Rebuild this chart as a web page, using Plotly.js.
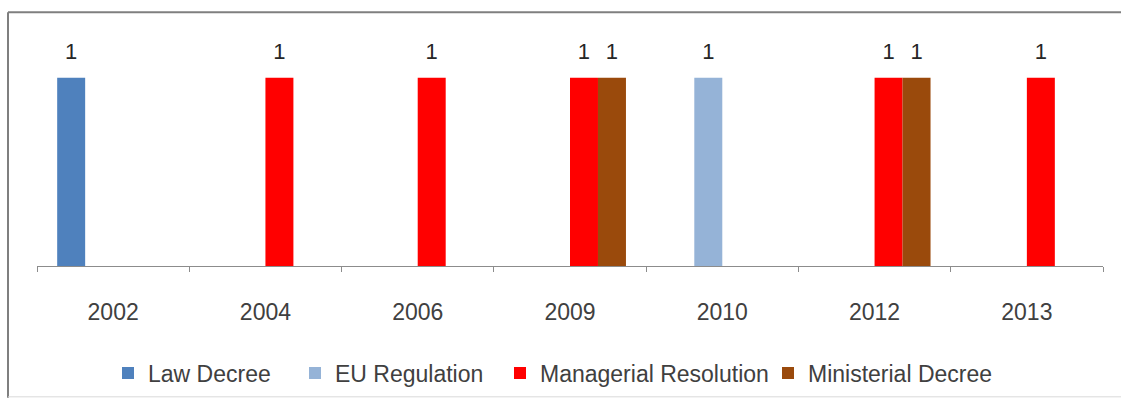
<!DOCTYPE html>
<html>
<head>
<meta charset="utf-8">
<script src="https://cdn.plot.ly/plotly-3.0.1.min.js"></script>
<style>
  html, body { margin: 0; padding: 0; background: #ffffff; }
  #chart { width: 1121px; height: 407px; }
</style>
</head>
<body>
<div id="chart"></div>
<script>
// ---- Data ----
const categories = ['2002', '2004', '2006', '2009', '2010', '2012', '2013'];
const seriesNames = ['Law Decree', 'EU Regulation', 'Managerial Resolution', 'Ministerial Decree'];
const lawDecree            = [1, null, null, null, null, null, null];
const euRegulation         = [null, null, null, null, 1, null, null];
const managerialResolution = [null, 1, 1, 1, null, 1, 1];
const ministerialDecree    = [null, null, null, 1, null, 1, null];

// ---- Styles ----
const seriesValues = [lawDecree, euRegulation, managerialResolution, ministerialDecree];
const colors = ['#4F81BD', '#95B3D7', '#FF0000', '#9A4A0C'];
const groups = ['g1', 'g2', 'g3', 'g4'];
const legendIds = ['legend', 'legend2', 'legend3', 'legend4'];
const FONT = 'Liberation Sans, Arial, sans-serif';
const TXT = '#404040';

const traces = [];
seriesValues.forEach((vals, i) => {
  traces.push({
    type: 'bar',
    name: seriesNames[i],
    x: categories,
    y: vals,
    offsetgroup: groups[i],
    marker: { color: colors[i] },
    legend: legendIds[i],
    hoverinfo: 'x+y+name'
  });
});
seriesValues.forEach((vals, i) => {
  traces.push({
    type: 'scatter',
    mode: 'markers+text',
    x: categories,
    y: vals,
    offsetgroup: groups[i],
    texttemplate: '%{y}',
    textposition: 'top center',
    textfont: { family: FONT, size: 22, color: '#262626' },
    marker: { size: 20, color: 'rgba(0,0,0,0)' },
    cliponaxis: false,
    showlegend: false,
    hoverinfo: 'skip'
  });
});

// plot area: x 37..1103, y 40..268
const plotL = 37, plotR = 1103, plotT = 40, plotB = 268;
const px = v => (v - plotL) / (plotR - plotL);
const py = v => (plotB - v) / (plotB - plotT);

function legendAt(xpix) {
  return {
    orientation: 'h',
    x: px(xpix), xanchor: 'left',
    y: py(376), yanchor: 'middle',
    bgcolor: 'rgba(0,0,0,0)',
    borderwidth: 0,
    font: { family: FONT, size: 23, color: TXT }
  };
}

const layout = {
  width: 1121,
  height: 407,
  margin: { l: plotL, r: 1121 - plotR, t: plotT, b: 407 - plotB },
  paper_bgcolor: '#ffffff',
  plot_bgcolor: '#ffffff',
  barmode: 'group',
  bargap: 0.265,
  bargroupgap: 0,
  scattermode: 'group',
  scattergap: 0.265,
  font: { family: FONT, size: 23, color: TXT },
  xaxis: {
    type: 'category',
    showgrid: false,
    zeroline: false,
    showline: true,
    linecolor: '#8c8c8c',
    linewidth: 1,
    ticks: 'outside',
    tickson: 'boundaries',
    ticklen: 5,
    tickcolor: '#8c8c8c',
    tickfont: { family: FONT, size: 23, color: TXT },
    ticklabelstandoff: 25,
    fixedrange: true
  },
  yaxis: {
    range: [0, 1.2],
    visible: false,
    showgrid: false,
    zeroline: false,
    fixedrange: true
  },
  legend: legendAt(108),
  legend2: legendAt(295),
  legend3: legendAt(500),
  legend4: legendAt(768),
  shapes: [
    { type: 'line', xref: 'paper', yref: 'paper', x0: px(8), x1: px(8), y0: py(401), y1: py(12),
      line: { color: '#7f7f7f', width: 2 } },
    { type: 'line', xref: 'paper', yref: 'paper', x0: px(8), x1: px(1125), y0: py(12), y1: py(12),
      line: { color: '#7f7f7f', width: 2 } },
    { type: 'line', xref: 'paper', yref: 'paper', x0: px(8), x1: px(1125), y0: py(400), y1: py(400),
      line: { color: '#d9d9d9', width: 1 } }
  ]
};

Plotly.newPlot('chart', traces, layout, { displayModeBar: false, staticPlot: true });
</script>
</body>
</html>
